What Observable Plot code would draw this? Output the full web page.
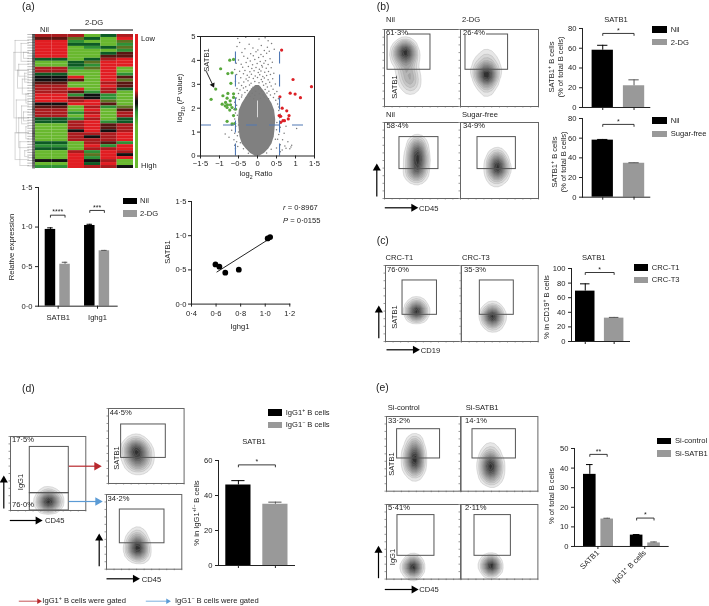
<!DOCTYPE html>
<html><head><meta charset="utf-8">
<script src="https://cdn.jsdelivr.net/npm/d3@7"></script>
<script src="https://cdn.jsdelivr.net/npm/@observablehq/plot@0.6"></script>
<style>
html,body{margin:0;padding:0;background:#fff}
#page{position:relative;width:709px;height:606px;overflow:hidden;font-family:'Liberation Sans',sans-serif;color:#222;filter:blur(.3px)}
#page>svg{position:absolute;overflow:visible}
.t{position:absolute;white-space:nowrap;font-size:7.6px;line-height:1}
.t sup,.t sub{font-size:68%;line-height:0}
.sw{position:absolute}
</style></head><body><div id="page"></div>
<script>
// ---------- (a) heat map: one letter per row for Nil, then four 2-DG columns
const heatColumns = ["Nil 1","Nil 2","2-DG 1","2-DG 2","2-DG 3","2-DG 4"];
const heatRows = ["rrGer","doeGR","RgGGo","ReeGg","RGgeo","RGGGg","RGGed","RGGdd","eGerR","GeoRR","GegRR","rgoRG","rGGRG","eGGRg","kRGRd","kdGRo","dGGrd","rGGRd","rRGre","rdgrG","RgkgG","RdkgG","RrRoG","kRRdG","dGrgo","rGRGd","rgrGr","rGRGr","egrGe","erRge","GrRdr","GrRdr","GkRkr","GrrrR","GrkrR","GrrrR","eGrdg","gGRgR","eGrrR","GrgRr","GRoRk","GRgRR","kRkrG","GReRG","gRrrk"];
const heatPalette = {R:"#e11d22",r:"#ab1b1e",d:"#5b1612",k:"#111111",e:"#0d5a25",g:"#2f9136",G:"#69b82f",o:"#5d7322"};
const dendroJoins = [[.15,2,12],[.25,12,18],[.1,6,28],[.2,22,33],[.3,28,38],[.15,33,42],[.35,36,44],[.4,3,9],[.45,15,20],[.42,24,30],[.5,6,8],[.55,13,16],[.5,26,29],[.55,39,41],[.3,10,14],[.6,20,23],[.6,31,35]];

// ---------- (a) volcano
const volcanoGreenX = [-1.1,-1.22,-.97,-.73,-.63,-.78,-.67,-.7,-.63,-.78,-.91,-.63,-.8,-.72,-.84,-.93,-.79,-.85,-.71,-.8,-.67,-.58,-.73,-.63,-.8,-.67,-.6];
const volcanoGreenY = [2.8,2.37,3.65,4.01,4.04,3.45,3.48,3.04,2.6,2.62,2.52,2.45,2.42,2.31,2.24,2.17,2.14,2.1,2.14,2.03,2.03,1.96,1.92,1.69,1.45,1.34,1.36];
const volcanoRedX = [.635,.935,1.42,.86,.99,1.13,.59,.65,.77,.57,.61,.83,.81,.67,.71,.61];
const volcanoRedY = [4.43,3.2,2.9,2.63,2.59,2.44,2.48,2,1.89,1.69,1.66,1.69,1.55,1.48,1.48,1.41];
const coreP = [0,.1,.3,.5,.8,1.1,1.5,1.9,2.2,2.45,2.7,2.95];
const coreLeft = [-.06,-.18,-.3,-.4,-.46,-.48,-.5,-.48,-.4,-.3,-.2,-.05];
const coreRight = [.06,.18,.3,.38,.44,.46,.48,.45,.38,.28,.18,.05];
const scatterPairs = [[-.52,4.92],[-.31,4.97],[.04,4.9],[.2,4.95],[.28,4.82],[.37,4.71],[-.47,4.75],[-.22,4.68],[.1,4.62],[.26,4.55],[-.54,4.58],[-.33,4.49],[-.12,4.52],[.01,4.43],[.18,4.41],[.31,4.38],[.44,4.47],[-.41,4.33],[-.18,4.28],[-.04,4.36],[.09,4.25],[.24,4.3],[-.36,4.17],[-.26,4.09],[-.11,4.19],[.03,4.12],[.15,4.16],[.33,4.07],[-.5,4.02],[-.19,3.97],[-.07,4.04],[.07,3.95],[.21,3.99],[.39,3.92],[-.56,3.88],[-.43,3.84],[-.3,3.91],[-.13,3.82],[-.01,3.87],[.11,3.79],[.17,3.88],[.28,3.83],[-.6,3.62],[-.39,3.71],[-.24,3.74],[-.15,3.66],[-.04,3.7],[.05,3.63],[.13,3.72],[.23,3.67],[.36,3.69],[-.47,3.55],[-.33,3.58],[-.2,3.52],[-.09,3.57],[.02,3.49],[.09,3.56],[.19,3.5],[.29,3.54],[.43,3.46],[-.55,3.41],[-.37,3.44],[-.27,3.38],[-.16,3.42],[-.06,3.35],[.06,3.4],[.14,3.33],[.24,3.37],[.34,3.41],[-.44,3.27],[-.3,3.22],[-.22,3.3],[-.11,3.24],[0,3.28],[.1,3.2],[.18,3.26],[.28,3.19],[.4,3.23],[-.58,3.13],[-.49,3.05],[-.36,3.1],[-.25,3.15],[-.17,3.04],[-.07,3.12],[.04,3.06],[.13,3.11],[.22,3.02],[.32,3.09],[.47,3.01],[-.42,2.95],[-.31,2.9],[-.21,2.97],[-.12,2.88],[-.02,2.94],[.07,2.87],[.16,2.96],[.26,2.89],[.36,2.93],[-.54,2.82],[-.46,2.76],[-.37,2.84],[-.27,2.74],[-.16,2.8],[-.05,2.71],[.03,2.8],[.11,2.72],[.2,2.78],[.3,2.71],[.41,2.79],[.51,2.7],[-.5,2.61],[-.41,2.55],[-.33,2.66],[-.24,2.58],[-.14,2.63],[-.07,2.54],[.05,2.6],[.15,2.55],[.25,2.64],[.34,2.55],[.45,2.6],[-.56,2.43],[-.48,2.36],[-.42,2.47],[-.3,2.44],[-.2,2.5],[-.1,2.4],[.08,2.42],[.18,2.47],[.29,2.4],[.42,2.45],[.48,2.33],[.55,2.4],[-.6,2.25],[-.55,2.12],[.53,2.18],[.56,2.05],[-.62,1.95],[-.58,1.8],[-.64,1.7],[.56,1.9],[.6,1.75],[.58,1.6],[-.6,1.55],[-.68,1.3],[-.57,1.25],[.6,1.2],[.75,1.25],[1.03,1.15],[-.85,.92],[-.68,1.08],[-.6,.95],[-.53,.85],[.7,.95],[.56,.9],[.9,.45],[-.75,.78],[-.62,.68],[-.55,.6],[.53,.7],[.66,.68],[.8,.6],[-.6,.45],[-.52,.4],[.6,.47],[.72,.42],[.88,.38],[-.58,.3],[.5,.33],[.65,.25],[.85,.3],[.6,.18],[.75,.32],[-.5,1.3],[-.53,1.7],[.51,1.4],[.5,1.1],[-.5,1],[.47,.7],[-.45,.55],[-.37,.3],[.36,.28],[-.24,.12],[.24,.13]];

// ---------- (a) scatter
const corrIghg1 = [.595,.627,.675,.785,1.02,1.04];
const corrSatb1 = [.58,.547,.46,.503,.96,.98];
const corrFitX = [.607,1.03];
const corrFitY = [.47,.95];

// ---------- bar panels
const aGroups = ["SATB1","Ighg1"], aConds = ["Nil","2-DG"];
const aValues = [[.97,.53],[1.02,.7]], aErrors = [[.02,.025],[.015,.005]];
const aBrackets = [1.15,1.21], aStars = ["****","***"];
const b1Conds = ["Nil","2-DG"], b1Values = [[58,22]], b1Errors = [[5,6]];
const b2Conds = ["Nil","Sugar-free"], b2Values = [[58,34.5]], b2Errors = [[.7,.5]];
const cConds = ["CRC-T1","CRC-T3"], cValues = [[69,32]], cErrors = [[10,1]];
const dConds = ["IgG1+ B cells","IgG1- B cells"], dValues = [[46,35]], dErrors = [[2.5,1.2]];
const eGroups = ["SATB1","IgG1⁺ B cells"], eConds = ["Si-control","Si-SATB1"];
const eValues = [[36.8,14],[5.8,1.8]], eErrors = [[5,.4],[.3,.5]];
const eBrackets = [47,14.5], eStars = ["**","*"];

// ---------- flow panels: gates [x1,x2,y1,y2] and density seeds [x,y,weight]
const gateB1=[.04,.605,.477,.935], gateB2=[.064,.61,.477,.935], gateB3=[.197,.71,.387,.808], gateB4=[.218,.71,.387,.808];
const gateC1=[.225,.68,.351,.803], gateC2=[.239,.682,.351,.803];
const gateD1=[.256,.774,.234,.859], gateD1low=[.256,.774,0,.234], gateD2=[.167,.758,.341,.787], gateD3=[.177,.77,.347,.799];
const gateE1=[.142,.718,.438,.83], gateE2=[.155,.716,.438,.83], gateE3=[.147,.643,.312,.858], gateE4=[.181,.651,.312,.858];
const seedB1=[[.2,.66,1],[.22,.73,1.3],[.27,.76,1.5],[.32,.72,1.3],[.33,.65,1],[.3,.6,.8],[.24,.6,.8],[.3,.5,.7],[.31,.42,.7],[.33,.34,.7],[.35,.26,.6],[.24,.45,.25],[.38,.42,.25],[.22,.32,.2],[.38,.3,.25],[.3,.15,.1]];
const seedB2=[[.33,.68,.2],[.26,.58,.3],[.4,.58,.3],[.24,.46,.4],[.42,.46,.4],[.28,.36,.5],[.38,.36,.5],[.33,.27,.4],[.33,.4,.9],[.33,.48,.7],[.33,.18,.12]];
const seedB3=[[.43,.72,.5],[.43,.64,.8],[.43,.56,.8],[.44,.48,.8],[.42,.4,.7],[.41,.32,.5],[.36,.52,.2],[.5,.5,.2],[.36,.36,.2],[.48,.34,.2],[.42,.2,.08]];
const seedB4=[[.47,.56,.4],[.47,.48,.7],[.48,.41,.8],[.47,.33,.6],[.41,.44,.25],[.54,.42,.25],[.41,.3,.2],[.53,.3,.2],[.45,.2,.1]];
const seedC1=[[.41,.47,.7],[.41,.41,1],[.41,.35,.7],[.37,.41,.4],[.45,.41,.4],[.41,.28,.1]];
const seedC2=[[.41,.43,.4],[.4,.35,1],[.4,.28,.8],[.46,.34,.35],[.35,.34,.3],[.41,.2,.2],[.46,.26,.15]];
const seedD1=[[.51,.17,.8],[.45,.12,.8],[.57,.13,.8],[.51,.08,.8],[.47,.3,.05],[.43,.42,.04],[.5,.38,.03]];
const seedD2=[[.33,.5,.5],[.38,.42,.5],[.43,.45,.4],[.33,.35,.45],[.43,.3,.4],[.38,.25,.25],[.38,.58,.12],[.5,.4,.12],[.27,.42,.12],[.3,.26,.1],[.48,.26,.1]];
const seedD3=[[.41,.45,.3],[.4,.37,.7],[.42,.3,.8],[.39,.24,.6],[.44,.18,.3],[.33,.3,.2],[.5,.28,.2],[.42,.55,.05],[.34,.2,.12],[.48,.18,.12]];
const seedE1=[[.37,.68,.25],[.37,.58,.5],[.37,.48,.8],[.37,.38,.9],[.37,.28,.4],[.3,.48,.2],[.44,.48,.2],[.3,.32,.15],[.44,.32,.15],[.37,.14,.05]];
const seedE2=[[.39,.58,.12],[.39,.48,.3],[.39,.38,.7],[.39,.28,.7],[.39,.18,.25],[.33,.38,.12],[.46,.34,.12],[.33,.22,.08],[.45,.2,.1],[.45,.08,.04]];
const seedE3=[[.35,.2,.9],[.35,.14,.9],[.29,.16,.3],[.42,.16,.3],[.35,.08,.25],[.37,.36,.02],[.38,.46,.03],[.4,.55,.02]];
const seedE4=[[.39,.22,.9],[.39,.16,.9],[.33,.18,.3],[.46,.17,.3],[.39,.08,.25],[.41,.52,.02],[.4,.32,.015]];

// ---------- helpers
const page = document.getElementById("page");
const FONT = "7.6px 'Liberation Sans',sans-serif";
const dot = f => d => d3.format(f)(d).replace(".", "·").replace("-", "−");
const base = {style:{font:FONT,background:"transparent",overflow:"visible",color:"#222"}};
function put(svg, x, y){ svg.style.left = x+"px"; svg.style.top = y+"px"; page.append(svg); }
function T(html, x, y, o={}){
  const e = document.createElement("div"); e.className = "t"; e.innerHTML = html;
  e.style.left = x+"px"; e.style.top = y+"px";
  const ax = o.a === "m" ? "-50%" : "0";
  e.style.transform = o.rot ? `translate(-50%,-50%) rotate(${o.rot}deg)` : `translate(${ax},-50%)`;
  if (o.size) e.style.fontSize = o.size+"px";
  if (o.color) e.style.color = o.color;
  page.append(e);
}
function SW(x1,y1,x2,y2,bg){
  const e = document.createElement("div"); e.className = "sw";
  e.style.cssText = `left:${x1}px;top:${y1}px;width:${x2-x1}px;height:${y2-y1}px;background:${bg}`;
  page.append(e);
}
function bars({left,right,top,bottom,groups,conds,values,errors,brackets,stars,step,bw,gap,yMax,yTicks,fmt,rotate,capInset}){
  const mL=24,mR=4,mT=8,mB=rotate?50:12;
  const n=groups.length, fw=(right-left)/n, pi=1-bw/step;
  const outer=fw-2*bw-(step-bw), po=(fw/step-2+pi)/2, align=gap/outer;
  const rows=groups.flatMap((g,i)=>conds.map((c,j)=>({group:g,cond:c,value:values[i][j],err:errors[i][j]})));
  const nub=2*yMax/(bottom-top);
  const line=brackets.flatMap((y,i)=>[[0,y-nub],[0,y],[1,y],[1,y-nub]].map(([c,v])=>({k:i,group:groups[i],cond:conds[c],y:v})));
  const sig=brackets.map((y,i)=>({group:groups[i],y,label:stars[i]}));
  const axisMarks = n>1
    ? [Plot.axisFx({anchor:"bottom",label:null,tickSize:3,tickPadding:rotate?2:5,tickRotate:rotate?-45:undefined})]
    : [Plot.axisX({anchor:"bottom",label:null,tickSize:3,tickFormat:()=>""})];
  const svg=Plot.plot({...base,width:right-left+mL+mR,height:bottom-top+mT+mB,marginLeft:mL,marginRight:mR,marginTop:mT,marginBottom:mB,
    fx:{domain:groups,padding:0,round:false,axis:null},
    x:{domain:conds,paddingInner:pi,paddingOuter:po,align,round:false,axis:null},
    y:{domain:[0,yMax],axis:null},
    marks:[
      Plot.barY(rows,{fx:"group",x:"cond",y:"value",fill:d=>d.cond===conds[0]?"#000":"#999"}),
      Plot.ruleX(rows,{fx:"group",x:"cond",y1:"value",y2:d=>d.value+d.err,stroke:d=>d.cond===conds[0]?"#000":"#555",strokeWidth:1}),
      Plot.tickY(rows,{fx:"group",x:"cond",y:d=>d.value+d.err,stroke:d=>d.cond===conds[0]?"#000":"#555",strokeWidth:1,insetLeft:capInset,insetRight:capInset}),
      Plot.line(line,{fx:"group",x:"cond",y:"y",z:"k",stroke:"#222",strokeWidth:.9}),
      Plot.text(sig,{fx:"group",x:()=>conds[0],y:"y",text:"label",dx:step/2,dy:-3,fontSize:7}),
      Plot.axisY({anchor:"left",ticks:yTicks,tickFormat:fmt,tickSize:3,tickPadding:3,label:null}),
      ...axisMarks,
      Plot.frame({facet:"super",anchor:"left",stroke:"#222"}),
      Plot.frame({facet:"super",anchor:"bottom",stroke:"#222"})
    ]});
  put(svg,left-mL,top-mT);
}
function flow([x1,y1,x2,y2],gates,seeds,bw){
  const m=3;
  const svg=Plot.plot({...base,width:x2-x1+2*m,height:y2-y1+2*m,margin:m,
    x:{domain:[0,1],axis:null},y:{domain:[0,1],axis:null},
    color:{type:"linear",range:["#f8f8f8","#303030"]},
    marks:[
      Plot.density(seeds,{x:d=>d[0],y:d=>d[1],weight:d=>d[2],bandwidth:bw*.72,thresholds:13,fill:"density",stroke:"#8f8f8f",strokeWidth:.25}),
      Plot.rect(gates,{x1:d=>d[0],x2:d=>d[1],y1:d=>d[2],y2:d=>d[3],stroke:"#555",strokeWidth:1,fill:"none"}),
      Plot.axisX({anchor:"bottom",ticks:11,tickSize:1.5,tickFormat:()=>"",stroke:"#999",label:null,tickPadding:0}),
      Plot.axisY({anchor:"left",ticks:9,tickSize:1.5,tickFormat:()=>"",stroke:"#999",label:null,tickPadding:0}),
      Plot.frame({stroke:"#666",strokeWidth:1})
    ]});
  put(svg,x1-m,y1-m);
}

// ---------- (a) heat map, dendrogram, colour bar
{
  const cells=heatRows.flatMap((r,i)=>heatColumns.map((c,j)=>({row:i,col:c,code:r[Math.max(0,j-1)]})));
  put(Plot.plot({...base,width:98,height:134,margin:0,
    x:{domain:heatColumns,axis:null,padding:0,round:false},
    y:{domain:d3.range(heatRows.length),axis:null,padding:0,round:false},
    marks:[Plot.cell(cells,{x:"col",y:"row",fill:d=>heatPalette[d.code]})]}),35,34);
  const h=dendroJoins.flatMap(([x,a,b])=>[{x,y:a},{x,y:b}]);
  put(Plot.plot({...base,width:24,height:134,margin:0,
    x:{domain:[0,1],axis:null},y:{domain:[0,45],axis:null,reverse:true},
    marks:[
      Plot.ruleY(h,{y:"y",x1:"x",x2:.75,stroke:"#999",strokeWidth:.4}),
      Plot.ruleX(dendroJoins,{x:d=>d[0],y1:d=>d[1],y2:d=>d[2],stroke:"#999",strokeWidth:.4}),
      Plot.ruleY(d3.range(0,45,.9),{x1:.68,x2:1,stroke:"#555",strokeWidth:.4}),
      Plot.ruleY(d3.range(0,45,.35),{x1:.88,x2:1,stroke:"#111",strokeWidth:.7})
    ]}),11,34);
  SW(134.5,34,137.5,168,"linear-gradient(#e11d22 0%,#e11d22 42%,#111 50%,#111 52%,#2f9136 58%,#69b82f 68%,#69b82f 100%)");
  put(Plot.plot({...base,width:63,height:3,margin:0,x:{domain:[0,1],axis:null},y:{axis:null},
    marks:[Plot.ruleY([0],{x1:0,x2:1,stroke:"#000",strokeWidth:1})]}),70,27.5);
}
T("(a)",22,7,{size:10.4}); T("Nil",40,29.5); T("2-DG",85,23); T("Low",141,39); T("High",141,166);

// ---------- (a) volcano
{
  const gray=scatterPairs.map(([x,p])=>({x,p}));
  const core=coreP.map((p,i)=>({p,a:coreLeft[i],b:coreRight[i]}));
  const green=volcanoGreenX.map((x,i)=>({x,p:volcanoGreenY[i]}));
  const red=volcanoRedX.map((x,i)=>({x,p:volcanoRedY[i]}));
  const mL=24,mT=4,mB=14,mR=4;
  put(Plot.plot({...base,width:114+mL+mR,height:119.5+mT+mB,marginLeft:mL,marginRight:mR,marginTop:mT,marginBottom:mB,
    x:{domain:[-1.5,1.5],axis:null},y:{domain:[0,5],axis:null},
    marks:[
      Plot.areaX(core,{y:"p",x1:"a",x2:"b",fill:"#808080"}),
      Plot.ruleX([0],{y1:1.6,y2:2.3,stroke:"#fff",strokeWidth:.7}),
      Plot.dot(gray,{x:"x",y:"p",r:.75,fill:"#7a7a7a"}),
      Plot.dot(green,{x:"x",y:"p",r:1.6,fill:"#58a83c"}),
      Plot.dot(red,{x:"x",y:"p",r:1.6,fill:"#dc2026"}),
      Plot.ruleX([-.58,.58],{y1:0,y2:4.5,stroke:"#5078b4",strokeWidth:1.1,strokeDasharray:"12,11"}),
      Plot.ruleY([1.3],{x1:-1.5,x2:1.5,stroke:"#5078b4",strokeWidth:1.1,strokeDasharray:"11,12"}),
      Plot.axisX({anchor:"bottom",ticks:[-1.5,-1,-.5,0,.5,1,1.5],tickFormat:d=>dot(Number.isInteger(d)?"d":".1f")(d),tickSize:3,tickPadding:2,label:null}),
      Plot.axisY({anchor:"left",ticks:[0,1,2,3,4,5],tickFormat:dot("d"),tickSize:3,tickPadding:2,label:null}),
      Plot.frame({stroke:"#222"})
    ]}),200-mL,35.5-mT);
}
T("log<sub>10</sub> (<i>P</i> value)",180,98,{rot:-90}); T("log<sub>2</sub> Ratio",256,174,{a:"m"}); T("SATB1",206.7,60,{rot:-90});

// ---------- (a) bars + correlation
bars({left:38.3,right:117,top:187.3,bottom:306,groups:aGroups,conds:aConds,values:aValues,errors:aErrors,brackets:aBrackets,stars:aStars,step:14.6,bw:10.5,gap:6.7,yMax:1.5,yTicks:[0,.5,1,1.5],fmt:dot(".1f"),capInset:2.5});
T("Relative expression",12,246.7,{rot:-90});
SW(123.3,198,137.3,204.3,"#000"); SW(123.3,210.3,137.3,217.3,"#999"); T("Nil",140,201.2); T("2-DG",140,214);
{
  const pts=corrIghg1.map((x,i)=>({x,y:corrSatb1[i]}));
  const fit=corrFitX.map((x,i)=>({x,y:corrFitY[i]}));
  const mL=24,mT=4,mB=14,mR=6;
  put(Plot.plot({...base,width:98.3+mL+mR,height:102.6+mT+mB,marginLeft:mL,marginRight:mR,marginTop:mT,marginBottom:mB,
    x:{domain:[.4,1.2],axis:null},y:{domain:[0,1.5],axis:null},
    marks:[
      Plot.line(fit,{x:"x",y:"y",stroke:"#222",strokeWidth:1}),
      Plot.dot(pts,{x:"x",y:"y",r:2.9,fill:"#000"}),
      Plot.axisX({anchor:"bottom",ticks:[.4,.6,.8,1,1.2],tickFormat:dot(".1f"),tickSize:3,tickPadding:3,label:null}),
      Plot.axisY({anchor:"left",ticks:[0,.5,1,1.5],tickFormat:dot(".1f"),tickSize:3,tickPadding:2,label:null}),
      Plot.frame({anchor:"left",stroke:"#222"}),Plot.frame({anchor:"bottom",stroke:"#222"})
    ]}),190.7-mL,200.7-mT);
}
T("SATB1",167.7,251.7,{rot:-90}); T("Ighg1",240,327,{a:"m"});
T("<i>r</i> = 0·8967",283,208); T("<i>P</i> = 0·0155",283,221.3);

// ---------- (b)
T("(b)",376.7,7,{size:10.4});
flow([384.3,29,460.3,106],[gateB1],seedB1,5); flow([460.3,29,538.3,106],[gateB2],seedB2,6);
flow([384.3,121.7,460.3,197.7],[gateB3],seedB3,5); flow([460.3,121.7,538.3,197.7],[gateB4],seedB4,5);
SW(386,32,407,35,"#fff"); SW(463,32,486,35,"#fff");
T("Nil",386,20); T("2-DG",462,20); T("Nil",386,115); T("Sugar-free",462,115);
T("61·3%",386,33); T("26·4%",463,33); T("58·4%",386.5,126); T("34·9%",463,126);
T("SATB1",395,87,{rot:-90}); T("CD45",419,208.7);
bars({left:581.7,right:649,top:28,bottom:107,groups:["SATB1"],conds:b1Conds,values:b1Values,errors:b1Errors,brackets:[75],stars:["*"],step:31.3,bw:21.3,gap:9.6,yMax:80,yTicks:[0,20,40,60,80],fmt:dot("d"),capInset:5.5});
bars({left:581.7,right:649,top:118,bottom:196.7,groups:["SATB1"],conds:b2Conds,values:b2Values,errors:b2Errors,brackets:[74],stars:["*"],step:31.3,bw:21.3,gap:9.6,yMax:80,yTicks:[0,20,40,60,80],fmt:dot("d"),capInset:5.5});
T("SATB1",616,20,{a:"m"});
T("SATB1<sup>+</sup> B cells",552,67,{rot:-90}); T("(% of total B cells)",561,67,{rot:-90});
T("SATB1<sup>+</sup> B cells",555,161.6,{rot:-90}); T("(% of total B cells)",563.5,161.6,{rot:-90});
SW(652,26,667,33,"#000"); SW(652,38.7,667,45,"#999"); T("Nil",670.7,29.5); T("2-DG",670.7,42.5);
SW(652,117,667,124,"#000"); SW(652,130.7,667,136.7,"#999"); T("Nil",670.7,120.5); T("Sugar-free",670.7,134);

// ---------- (c)
T("(c)",376.7,240.7,{size:10.4});
flow([385.3,265,461,341],[gateC1],seedC1,4.5); flow([461,265,537.7,341],[gateC2],seedC2,4.5);
T("CRC-T1",385.5,258); T("CRC-T3",462,258); T("76·0%",387,270); T("35·3%",464,270);
T("SATB1",395,316.7,{rot:-90}); T("CD19",420.7,350.7);
bars({left:571,right:629,top:267.7,bottom:340.7,groups:["SATB1"],conds:cConds,values:cValues,errors:cErrors,brackets:[94.5],stars:["*"],step:28.9,bw:19.5,gap:4,yMax:100,yTicks:[0,20,40,60,80,100],fmt:dot("d"),capInset:5});
T("SATB1",593.7,258,{a:"m"}); T("% in CD19<sup>+</sup> B cells",547,307,{rot:-90});
SW(634.3,264.3,648.3,270.7,"#000"); SW(634.3,277,648.3,283.3,"#999"); T("CRC-T1",651.7,267.5); T("CRC-T3",651.7,280);

// ---------- (d)
T("(d)",22,389,{size:10.4});
flow([10,436.3,85.3,510.3],[gateD1,gateD1low],seedD1,5); flow([107.7,408.3,183.3,483.3],[gateD2],seedD2,6); flow([106,494.3,181.3,569],[gateD3],seedD3,5);
T("17·5%",12,440); T("76·0%",12,505.3); T("44·5%",109.7,412.7); T("34·2%",107.5,498.7);
T("IgG1",20.7,481.7,{rot:-90}); T("SATB1",116.7,458,{rot:-90}); T("CD45",45,520.5); T("CD45",141.7,580);
bars({left:218,right:294,top:460,bottom:565,groups:["SATB1"],conds:dConds,values:dValues,errors:dErrors,brackets:[57.5],stars:["*"],step:37,bw:25.2,gap:7.3,yMax:60,yTicks:[0,20,40,60],fmt:dot("d"),capInset:6});
T("SATB1",254,441.7,{a:"m"}); T("% in IgG1<sup>+/−</sup> B cells",197,513,{rot:-90});
SW(267.7,409,281.7,416.3,"#000"); SW(267.7,421.7,281.7,428.3,"#999"); T("IgG1<sup>+</sup> B cells",285.7,413); T("IgG1<sup>−</sup> B cells",285.7,425.3);
T("IgG1<sup>+</sup> B cells were gated",42.3,601); T("IgG1<sup>−</sup> B cells were gated",175,601);

// ---------- (e)
T("(e)",376,388,{size:10.4});
flow([385.7,416.3,460.3,491],[gateE1],seedE1,5); flow([460.3,416.3,537.7,491],[gateE2],seedE2,5);
flow([385.7,503.7,460.3,578.3],[gateE3],seedE3,4); flow([460.3,503.7,537.7,578.3],[gateE4],seedE4,4);
T("Si-control",387.7,408.3); T("Si-SATB1",465.7,408.3); T("33·2%",388,421); T("14·1%",465,421); T("5·41%",388,507.7); T("2·11%",465,507.7);
T("SATB1",391.7,464,{rot:-90}); T("IgG1",392.7,556.7,{rot:-90}); T("CD45",419.3,590);
bars({left:574,right:667.7,top:447.7,bottom:545.7,groups:eGroups,conds:eConds,values:eValues,errors:eErrors,brackets:eBrackets,stars:eStars,step:17.4,bw:12.6,gap:9,yMax:50,yTicks:[0,10,20,30,40,50],fmt:dot("d"),rotate:true,capInset:3});
T("% of total B cells",552,496,{rot:-90});
SW(656.7,438,670.7,444.3,"#000"); SW(656.7,450.3,670.7,456.7,"#999"); T("Si-control",675,441); T("Si-SATB1",675,453.5);

// ---------- gating and axis arrows, drawn on a page-sized layer (x2,y2 = arrow tip)
const arrowLayer = [
 {x1:205.7,y1:70.7,x2:213,y2:86,c:"#111",w:.9,r:2},
 {x1:376.3,y1:196,x2:376.3,y2:165,c:"#000",w:1.2,r:3},{x1:384.3,y1:207.3,x2:415.7,y2:207.3,c:"#000",w:1.2,r:3},
 {x1:378.3,y1:337.7,x2:378.3,y2:307,c:"#000",w:1.2,r:3},{x1:386,y1:349.3,x2:417.3,y2:349.3,c:"#000",w:1.2,r:3},
 {x1:3.3,y1:508,x2:3.3,y2:477,c:"#000",w:1.2,r:3},{x1:9.3,y1:520,x2:40,y2:520,c:"#000",w:1.2,r:3},
 {x1:68.3,y1:465.7,x2:99,y2:465.7,c:"#b8282d",w:1.2,r:3.2},{x1:68.3,y1:501,x2:100,y2:501,c:"#5b9bd5",w:1.2,r:3.2},
 {x1:98.7,y1:565.7,x2:98.7,y2:535,c:"#000",w:1.2,r:3},{x1:106,y1:578.3,x2:137.3,y2:578.3,c:"#000",w:1.2,r:3},
 {x1:378,y1:577.7,x2:378,y2:547.3,c:"#000",w:1.2,r:3},{x1:384.3,y1:589,x2:416,y2:589,c:"#000",w:1.2,r:3},
 {x1:18.3,y1:600.7,x2:40,y2:600.7,c:"#b8282d",w:.8,r:2},{x1:145.3,y1:600.7,x2:169,y2:600.7,c:"#5b9bd5",w:.8,r:2}
];
const tip=(d,k)=>{const L=Math.hypot(d.x2-d.x1,d.y2-d.y1);return k==="x"?d.x2-(d.x2-d.x1)/L*d.r*.85:d.y2-(d.y2-d.y1)/L*d.r*.85;};
put(Plot.plot({...base,width:709,height:606,margin:0,
  x:{domain:[0,709],axis:null},y:{domain:[0,606],axis:null,reverse:true},r:{type:"identity"},
  marks:[
    Plot.link(arrowLayer,{x1:"x1",y1:"y1",x2:d=>tip(d,"x"),y2:d=>tip(d,"y"),stroke:"c",strokeWidth:"w"}),
    Plot.dot(arrowLayer,{x:d=>tip(d,"x"),y:d=>tip(d,"y"),r:"r",fill:"c",symbol:"triangle",rotate:d=>Math.atan2(d.x2-d.x1,d.y1-d.y2)*180/Math.PI})
  ]}),0,0);
</script></body></html>
